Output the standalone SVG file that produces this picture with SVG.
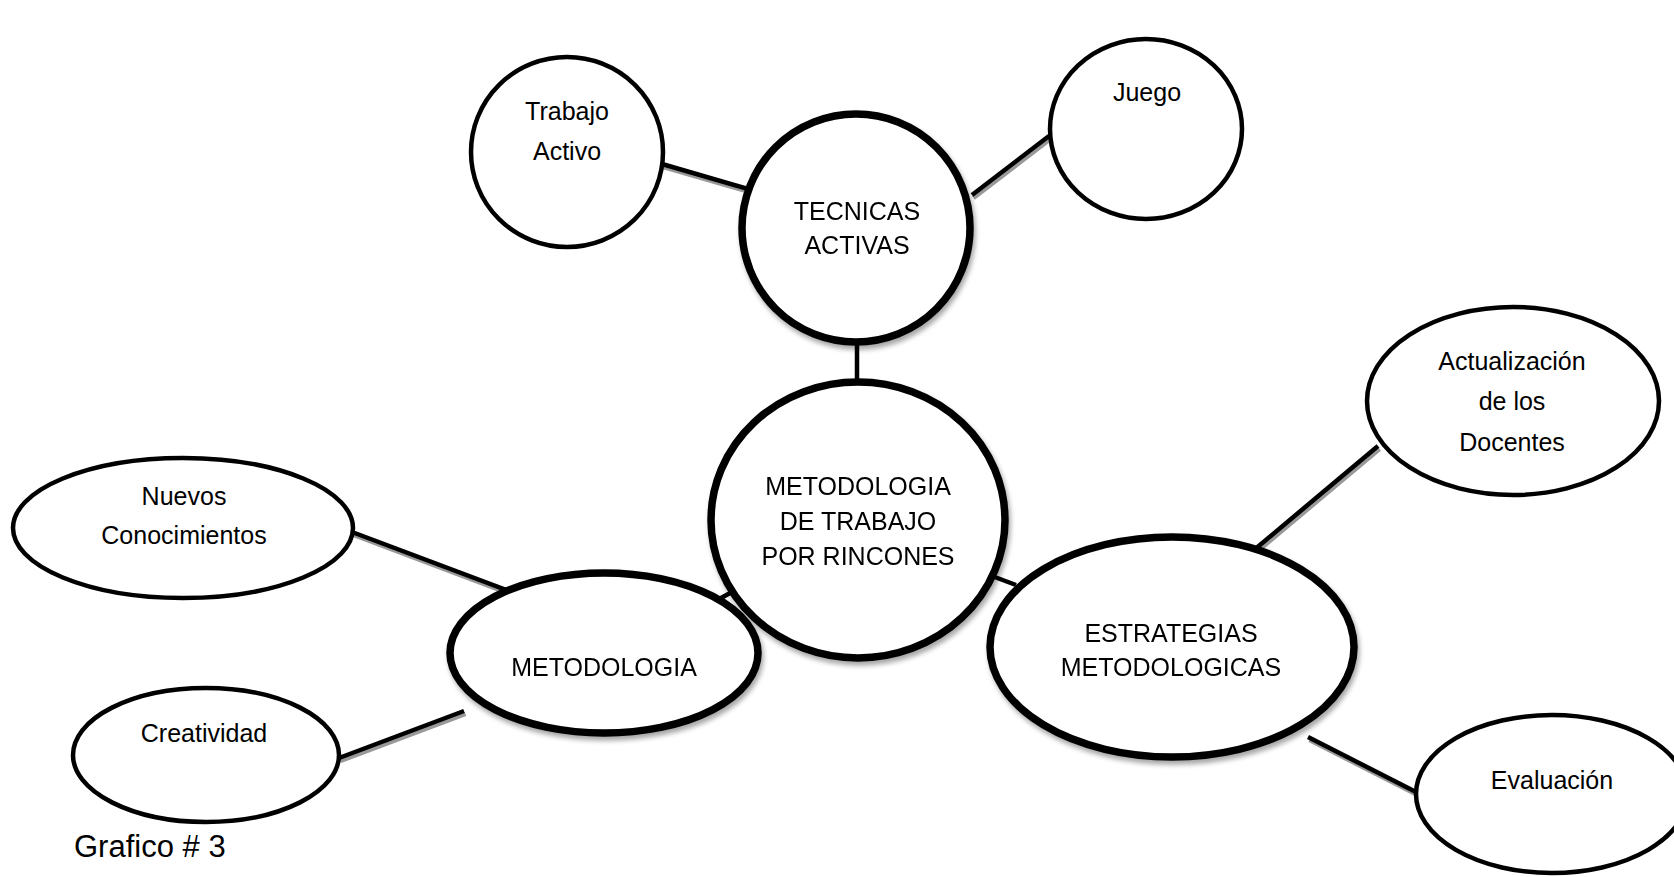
<svg xmlns="http://www.w3.org/2000/svg" width="1674" height="877" viewBox="0 0 1674 877">
<style>
  .thin { fill: #fff; stroke: #000; stroke-width: 4.5; }
  .thick { fill: #fff; stroke: #000; stroke-width: 7.5; }
  .lbl { font-family: "Liberation Sans", Arial, sans-serif; font-size: 25px; fill: #000; text-anchor: middle; }
  .ln { stroke: #000; stroke-width: 4.5; fill: none; }
  .sh { stroke: #999; stroke-width: 4.5; fill: none; }
</style>
<defs>
  <filter id="ds" x="-10%" y="-10%" width="120%" height="125%">
    <feGaussianBlur in="SourceAlpha" stdDeviation="2.5"/>
    <feOffset dx="2" dy="4" result="b"/>
    <feComponentTransfer><feFuncA type="linear" slope="0.35"/></feComponentTransfer>
    <feMerge><feMergeNode/><feMergeNode in="SourceGraphic"/></feMerge>
  </filter>
</defs>
<rect width="1674" height="877" fill="#fff"/>
<g id="connectors">
  <g transform="translate(1.5,3)">
    <line class="sh" x1="662" y1="164" x2="765" y2="194"/>
    <line class="sh" x1="1049" y1="136" x2="972" y2="195"/>
    <line class="sh" x1="352" y1="532" x2="525" y2="597"/>
    <line class="sh" x1="339" y1="758" x2="464" y2="711"/>
    <line class="sh" x1="1254" y1="550" x2="1378" y2="446"/>
    <line class="sh" x1="1308" y1="737" x2="1416" y2="792"/>
  </g>
  <line class="ln" x1="662" y1="164" x2="765" y2="194"/>
  <line class="ln" x1="1049" y1="136" x2="972" y2="195"/>
  <line class="ln" x1="857" y1="340" x2="857" y2="384"/>
  <line class="ln" x1="352" y1="532" x2="525" y2="597"/>
  <line class="ln" x1="339" y1="758" x2="464" y2="711"/>
  <line class="ln" x1="710" y1="604" x2="732" y2="592"/>
  <line class="ln" x1="992" y1="576" x2="1016" y2="585"/>
  <line class="ln" x1="1254" y1="550" x2="1378" y2="446"/>
  <line class="ln" x1="1308" y1="737" x2="1416" y2="792"/>
</g>
<g id="n-trabajo">
  <ellipse class="thin" cx="567" cy="152" rx="96" ry="95"/>
  <text class="lbl" x="567" y="120">Trabajo</text>
  <text class="lbl" x="567" y="160">Activo</text>
</g>
<g id="n-tecnicas" filter="url(#ds)">
  <ellipse class="thick" cx="856" cy="228" rx="114" ry="114"/>
  <text class="lbl" x="857" y="220">TECNICAS</text>
  <text class="lbl" x="857" y="254">ACTIVAS</text>
</g>
<g id="n-juego">
  <ellipse class="thin" cx="1146" cy="129" rx="96" ry="90"/>
  <text class="lbl" x="1147" y="101">Juego</text>
</g>
<g id="n-central" filter="url(#ds)">
  <ellipse class="thick" cx="858" cy="520" rx="147" ry="138"/>
  <text class="lbl" x="858" y="495">METODOLOGIA</text>
  <text class="lbl" x="858" y="530">DE TRABAJO</text>
  <text class="lbl" x="858" y="565">POR RINCONES</text>
</g>
<g id="n-metodologia" filter="url(#ds)">
  <ellipse class="thick" cx="604" cy="653" rx="154" ry="80"/>
  <text class="lbl" x="604" y="676">METODOLOGIA</text>
</g>
<g id="n-nuevos">
  <ellipse class="thin" cx="183" cy="528" rx="170" ry="70"/>
  <text class="lbl" x="184" y="505">Nuevos</text>
  <text class="lbl" x="184" y="544">Conocimientos</text>
</g>
<g id="n-creatividad">
  <ellipse class="thin" cx="206" cy="755" rx="133" ry="67"/>
  <text class="lbl" x="204" y="742">Creatividad</text>
</g>
<g id="n-estrategias" filter="url(#ds)">
  <ellipse class="thick" cx="1172" cy="647" rx="182" ry="110"/>
  <text class="lbl" x="1171" y="642">ESTRATEGIAS</text>
  <text class="lbl" x="1171" y="676">METODOLOGICAS</text>
</g>
<g id="n-actualizacion">
  <ellipse class="thin" cx="1513" cy="401" rx="146" ry="94"/>
  <text class="lbl" x="1512" y="370">Actualización</text>
  <text class="lbl" x="1512" y="410">de los</text>
  <text class="lbl" x="1512" y="451">Docentes</text>
</g>
<g id="n-evaluacion">
  <ellipse class="thin" cx="1552" cy="794" rx="136" ry="79"/>
  <text class="lbl" x="1552" y="789">Evaluación</text>
</g>
<text id="caption" x="74" y="857" style="font-family:'Liberation Sans',Arial,sans-serif;font-size:31px;fill:#000">Grafico # 3</text>
</svg>
